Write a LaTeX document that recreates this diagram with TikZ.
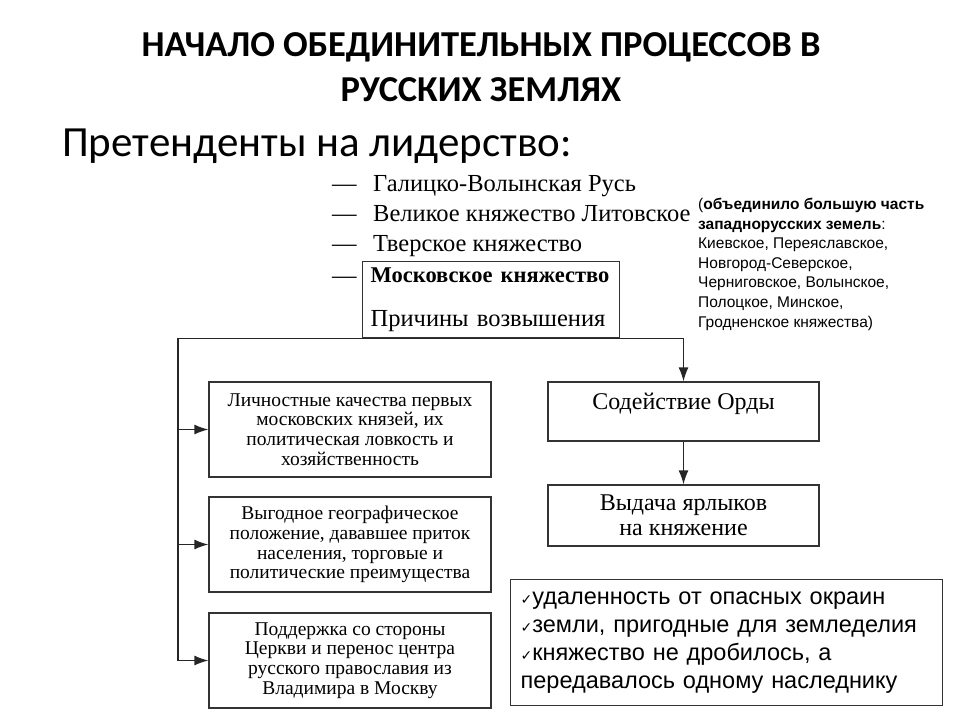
\documentclass[tikz,border=0pt]{standalone}
\usepackage{fontspec}
\setmainfont{Liberation Serif}
\newfontfamily\calibri{Carlito}
\newfontfamily\arial{Liberation Sans}
\newfontfamily\checkfont{DejaVu Sans}
\usetikzlibrary{arrows.meta}
\newcommand{\tick}{{\checkfont\fontsize{14}{14}\selectfont ✓}}
\begin{document}
\begin{tikzpicture}[x=1pt, y=-1pt,
    frame/.style={draw=black!80, line width=1.3pt},
    reason/.style={frame, minimum width=282pt, minimum height=95pt, align=center,
      font=\fontsize{19.5}{19.8}\selectfont},
    horde/.style={frame, minimum width=271pt, align=center,
      font=\fontsize{24}{25}\selectfont},
    contender/.style={anchor=base west, inner sep=0pt, font=\fontsize{24.5}{28}\selectfont},
    link/.style={draw=black!85, line width=1.3pt},
    tolink/.style={link, -{Latex[length=14pt, width=10pt]}}]
  \useasboundingbox (0,0) rectangle (960,720);

  % Title
  \node (title1) at (481,47) {\calibri\bfseries\fontsize{36.5}{36}\selectfont НАЧАЛО ОБЕДИНИТЕЛЬНЫХ ПРОЦЕССОВ В};
  \node (title2) at (481,90) {\calibri\bfseries\fontsize{36.5}{36}\selectfont РУССКИХ ЗЕМЛЯХ};
  \node [anchor=base west, inner sep=0pt] (lead) at (62,156)
    {\calibri\fontsize{43}{43}\selectfont Претенденты на лидерство:};

  % Contenders
  \foreach \i/\y/\txt in {
    1/191/Галицко-Волынская Русь,
    2/221/Великое княжество Литовское,
    3/251/Тверское княжество} {
    \node [contender] (dash\i) at (332,\y) {—};
    \node [contender] (cand\i) at (373,\y) {\txt};
  }
  \node [contender] (dash4) at (332,283) {—};
  \node [frame, anchor=north west, align=left, text width=241pt, inner xsep=8pt, inner ysep=6pt,
    font=\fontsize{24.5}{28}\selectfont] (moscow) at (362,261)
    {\mbox{\bfseries\fontsize{22.5}{28}\selectfont Московское княжество}\\[16pt]Причины возвышения};

  % Note on Lithuania
  \node [anchor=north west, align=left, inner sep=0pt,
    font=\arial\fontsize{15.5}{19.6}\selectfont] (note) at (698,198)
    {(\textbf{объединило большую часть}\\
     \textbf{западнорусских земель}:\\
     Киевское, Переяславское,\\
     Новгород-Северское,\\
     Черниговское, Волынское,\\
     Полоцкое, Минское,\\
     Гродненское княжества)};

  % Reasons
  \node [reason] (r1) at (350,429.5)
    {Личностные качества первых\\московских князей, их\\политическая ловкость и\\хозяйственность};
  \node [reason] (r2) at (350,544.5)
    {Выгодное географическое\\положение, дававшее приток\\населения, торговые и\\политические преимущества};
  \node [reason] (r3) at (350,660.5)
    {Поддержка со стороны\\Церкви и перенос центра\\русского православия из\\Владимира в Москву};

  \node [horde, minimum height=59pt, text depth=20pt] (orda) at (683.5,411.5) {Содействие Орды};
  \node [horde, minimum height=61pt] (yarlyk) at (683.5,515.5) {Выдача ярлыков\\на княжение};

  % Connectors
  \coordinate (spine) at (178,0);
  \draw [tolink] (moscow.south) -| (orda.north);
  \draw [link] (moscow.south) -| (r3.west -| spine);
  \foreach \r in {r1,r2,r3}
    \draw [tolink] (\r.west -| spine) -- (\r.west);
  \draw [tolink] (orda) -- (yarlyk);

  % Geography
  \node [frame, anchor=north west, align=left, text width=412pt, inner xsep=10pt,
    minimum height=126pt, font=\arial\fontsize{23.5}{28}\selectfont] (geo) at (510,579)
    {\tick удаленность от опасных окраин\\
     \tick земли, пригодные для земледелия\\
     \tick княжество не дробилось, а\\
     передавалось одному наследнику};
\end{tikzpicture}
\end{document}
